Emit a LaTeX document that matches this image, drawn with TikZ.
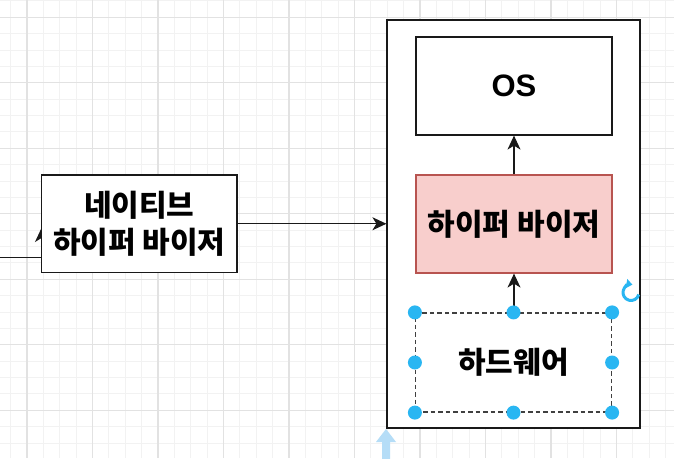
\documentclass[tikz,border=0pt]{standalone}
\usepackage{fontspec}
\setmainfont{Liberation Sans}
\newfontfamily\kr{Noto Sans CJK KR}
\usetikzlibrary{arrows.meta}
\definecolor{handleblue}{HTML}{29B6F2}
\definecolor{hoverblue}{HTML}{B5DDF7}
\definecolor{pinkfill}{HTML}{F8CECC}
\definecolor{pinkline}{HTML}{B85450}
\definecolor{minorgrid}{HTML}{F2F2F2}
\definecolor{majorgrid}{HTML}{E2E2E2}
\begin{document}
\begin{tikzpicture}[x=1pt,y=-1pt,
  box/.style={draw=black!90, line width=1.2, fill=white, inner sep=0pt, align=center},
  krtext/.style={font=\kr\bfseries\fontsize{30}{37}\selectfont},
  conn/.style={line width=1.1, draw=black!90, -{Stealth[length=14pt,width=13pt,inset=4pt]}},
  handle/.style={circle, fill=handleblue, minimum size=14, inner sep=0pt}
]
\useasboundingbox (0,0) rectangle (674,458);
\fill[white] (0,0) rectangle (674,458);
\begin{scope}
\clip (0,0) rectangle (674,458);
\foreach \i in {0,...,41} \draw[minorgrid, line width=1] ({10.625+16.375*\i},0) -- ++(0,458);
\foreach \i in {0,...,28} \draw[minorgrid, line width=1] (0,{0.925+16.375*\i}) -- ++(674,0);
\foreach \i in {0,...,10} \draw[majorgrid, line width=1.2] ({27+65.5*\i},0) -- ++(0,458);
\foreach \i in {0,...,7} \draw[majorgrid, line width=1.2] (0,{17.3+65.5*\i}) -- ++(674,0);
\end{scope}

% incoming connector on the left (mostly hidden behind the box)
\coordinate (in0) at (0,257.5);
\coordinate (in1) at (41.5,228);
\draw[conn] (in0) -| (in1);

% boxes
\node[box, krtext, minimum width=195.5, minimum height=97.5] (native) at (139.25,223.75) {네이티브\\하이퍼 바이저};
\node[box, minimum width=253, minimum height=408] (host) at (513.5,224) {};
\node[box, minimum width=196, minimum height=98, font=\bfseries\fontsize{31}{36}\selectfont] (os) at (514,86) {OS};
\node[box, krtext, fill=pinkfill, draw=pinkline, minimum width=196, minimum height=98] (hyp) at (514,224) {하이퍼 바이저};
\node[box, krtext, draw=black!75, dash pattern=on 4.5pt off 3pt, minimum width=196, minimum height=99] (hw) at (513.5,362.5) {하드웨어};

% connectors
\draw[conn] (native.east) -- (native.east -| host.west);
\draw[conn] (hyp.north) -- (os.south);
\draw[conn] (hw.north -| hyp.south) -- (hyp.south);

% selection handles
\foreach \a in {north west, north, north east, west, east, south west, south, south east}
  \node[handle] at (hw.\a) {};

% rotate icon
\coordinate (rot) at (631,292.5);
\draw[handleblue, line width=3, -{Triangle[length=6pt,width=9pt]}] (rot) ++(15:8) arc[start angle=15, end angle=280, radius=8];

% hover arrow at the bottom
\fill[hoverblue] (386,429) -- (396,442) -- (390,442) -- (390,459) -- (382,459) -- (382,442) -- (376,442) -- cycle;
\end{tikzpicture}
\end{document}
